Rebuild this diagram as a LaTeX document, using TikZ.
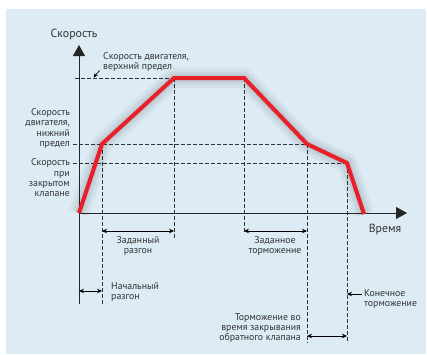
\documentclass[tikz,border=0pt]{standalone}
\usepackage{fontspec}
\setmainfont{PT Sans}
\usetikzlibrary{arrows.meta}
\definecolor{panel}{HTML}{DCEBF4}
\definecolor{curve}{HTML}{E8202A}
\definecolor{ink}{HTML}{333333}
\begin{document}
\begin{tikzpicture}[x=1pt,y=-1pt,
  lbl/.style={font=\fontsize{9.8}{10.3}\selectfont, text=ink, inner sep=0pt},
  big/.style={font=\fontsize{11.8}{13}\selectfont, text=ink, inner sep=0pt},
  guide/.style={draw=ink, dash pattern=on 3.5pt off 2.5pt, line width=0.75pt},
  axis/.style={draw=black!85, line width=0.9pt},
  dim/.style={draw=black, line width=0.8pt, {Stealth[length=5pt,width=4.5pt]}-{Stealth[length=5pt,width=4.5pt]}},
  onedim/.style={draw=black, line width=0.8pt, -{Stealth[length=5pt,width=4.5pt]}},
  redline/.style={draw=curve, line width=4pt, line join=miter}]
\useasboundingbox (0,0) rectangle (427,354);
\fill[panel] (6,9) rectangle (426,354);

% key points
\coordinate (O) at (79,213);
\coordinate (A) at (102,144);
\coordinate (B) at (174,78);
\coordinate (C) at (244,78);
\coordinate (D) at (307,144);
\coordinate (E) at (347,163);
\coordinate (F) at (364,214);
\coordinate (ybot) at (79,304);
\coordinate (ytop) at (79,45);
\coordinate (xend) at (407,213);

% guides
\coordinate (g1) at (75,78);
\coordinate (g2) at (73,144);
\coordinate (g3) at (73,163);
\coordinate (vA) at (102,305);
\coordinate (vB) at (174,238);
\coordinate (vC) at (244,234);
\coordinate (vD) at (307,343);
\coordinate (vE) at (347,343);
\draw[guide] (g1) -- (B);
\draw[guide] (g2) -- (D);
\draw[guide] (g3) -- (E);
\draw[guide] (A) -- (vA);
\draw[guide] (B) -- (vB);
\draw[guide] (C) -- (vC);
\draw[guide] (D) -- (vD);
\draw[guide] (E) -- (vE);

% axes
\draw[axis, -{Triangle[length=11pt,width=12pt]}] (ybot) -- (ytop);
\draw[axis, -{Triangle[length=11pt,width=12pt]}] (O) -- (xend);

% shadow of curve
\begin{scope}[shift={(3,8)}]
\draw[black, opacity=0.04, line width=20pt, line join=round] (O) -- (A) -- (B) -- (C) -- (D) -- (E) -- (F);
\draw[black, opacity=0.05, line width=13pt, line join=round] (O) -- (A) -- (B) -- (C) -- (D) -- (E) -- (F);
\draw[black, opacity=0.06, line width=7pt, line join=round] (O) -- (A) -- (B) -- (C) -- (D) -- (E) -- (F);
\end{scope}
\draw[redline] (O) -- (A) -- (B) -- (C) -- (D) -- (E) -- (F);

% dimension arrows
\coordinate (d1a) at (102,231); \coordinate (d1b) at (174,231);
\coordinate (d2a) at (244,231); \coordinate (d2b) at (307,231);
\coordinate (d3a) at (79,291);  \coordinate (d3b) at (102,291);
\coordinate (d4a) at (307,336); \coordinate (d4b) at (347,336);
\coordinate (d5a) at (362,294); \coordinate (d5b) at (347,294);
\draw[dim] (d1a) -- (d1b);
\draw[dim] (d2a) -- (d2b);
\draw[dim] (d3a) -- (d3b);
\draw[dim] (d4a) -- (d4b);
\draw[onedim] (d5a) -- (d5b);
\coordinate (s1) at (99.5,70.5); \coordinate (s2) at (93.5,77.5);
\draw[draw=black, line width=0.7pt, -{Stealth[length=4.5pt,width=4pt]}] (s1) -- (s2);

% labels
\node[big] (ylab) at (74,34) {Скорость};
\node[big] (xlab) at (385,229) {Время};
\node[lbl, anchor=west, align=left] (top) at (103,62) {Скорость двигателя,\\верхний предел};
\node[lbl, anchor=east, align=right] (low) at (70,128.5) {Скорость\\двигателя,\\нижний\\предел};
\node[lbl, anchor=east, align=right] (clo) at (70,178) {Скорость\\при\\закрытом\\клапане};
\node[lbl, align=center] (acc) at (138,246) {Заданный\\разгон};
\node[lbl, align=center] (dec) at (275,246) {Заданное\\торможение};
\node[lbl, anchor=west, align=left] (ini) at (111,292) {Начальный\\разгон};
\node[lbl, anchor=east, align=right] (chk) at (301,328) {Торможение во\\время закрывания\\обратного клапана};
\node[lbl, anchor=west, align=left] (fin) at (364,299) {Конечное\\торможение};
\end{tikzpicture}
\end{document}
